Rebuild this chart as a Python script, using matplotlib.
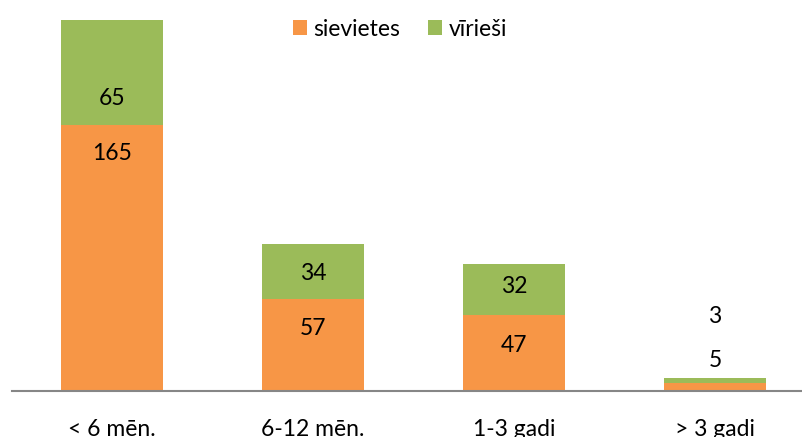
import matplotlib.pyplot as plt

categories = ['< 6 mēn.', '6-12 mēn.', '1-3 gadi', '> 3 gadi']
sievietes = [165, 57, 47, 5]
virieshi = [65, 34, 32, 3]

# where Excel put the data labels (in value units)
label_y_s = [147, 39, 28, 18.6]
label_y_v = [181.6, 73.1, 65, 45.9]

plt.rcParams['font.family'] = ['Lato', 'DejaVu Sans']

fig = plt.figure(figsize=(8.03, 4.37), dpi=100)
ax = fig.add_axes([12 / 803, 46 / 437, 791 / 803, 371 / 437])

x = range(len(categories))
b1 = ax.bar(x, sievietes, width=0.512, color='#F79646', label='sievietes')
b2 = ax.bar(x, virieshi, width=0.512, bottom=sievietes, color='#9BBB59', label='vīrieši')

for i in x:
    ax.text(i, label_y_s[i], str(sievietes[i]), ha='center', va='center', fontsize=16.5)
    ax.text(i, label_y_v[i], str(virieshi[i]), ha='center', va='center', fontsize=16.5)

ax.set_xlim(-0.4975, 3.438)
ax.set_ylim(0, 230)
ax.set_xticks(list(x))
ax.set_xticklabels(categories, fontsize=16.5)
ax.tick_params(axis='x', length=0, pad=20)
ax.set_yticks([])
for s in ['top', 'right', 'left']:
    ax.spines[s].set_visible(False)
ax.spines['bottom'].set_color('#868686')
ax.spines['bottom'].set_linewidth(1.5)

fig.legend(handles=[b1, b2], loc='center', bbox_to_anchor=(400 / 803, 1 - 29 / 437),
           ncol=2, frameon=False, fontsize=16.5, handlelength=0.6, handleheight=0.6,
           handletextpad=0.3, columnspacing=1.2, borderpad=0)

fig.savefig('out.png', dpi=100)
